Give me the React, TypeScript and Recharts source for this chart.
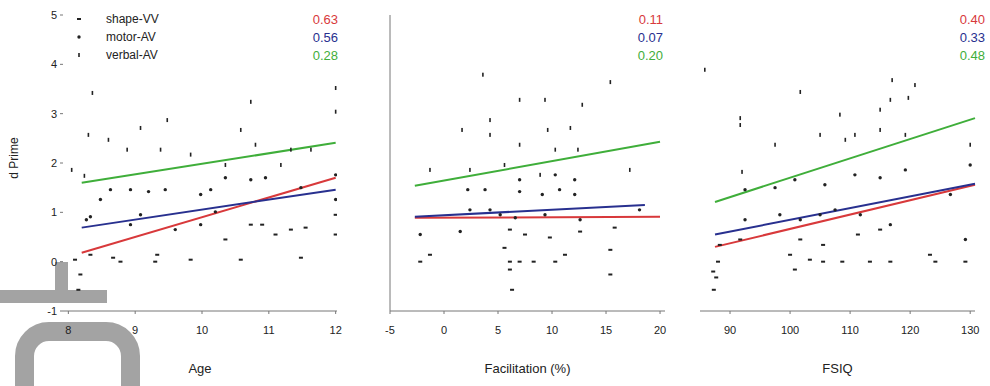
import { ScatterChart, Scatter, XAxis, YAxis, ReferenceLine, Label } from 'recharts'

type Pt = [number, number]

const SERIES = ['shape-VV', 'motor-AV', 'verbal-AV']
const COLORS = ['#d8393b', '#28308f', '#3fae3a']
const INK = '#222'

const Y_TICKS = [-1, 0, 1, 2, 3, 4, 5]
const AGE_TICKS = [8, 9, 10, 11, 12]
const FAC_TICKS = [-5, 0, 5, 10, 15, 20]
const IQ_TICKS = [90, 100, 110, 120, 130]

// correlation per series (shape, motor, verbal)
const AGE_R = ['0.63', '0.56', '0.28']
const FAC_R = ['0.11', '0.07', '0.20']
const IQ_R = ['0.40', '0.33', '0.48']

// regression segments [start, end] per series
const AGE_FITS: Pt[][] = [[[8.2, 0.18], [12, 1.7]], [[8.2, 0.69], [12, 1.46]], [[8.2, 1.6], [12, 2.41]]]
const FAC_FITS: Pt[][] = [[[-2.7, 0.89], [20, 0.91]], [[-2.7, 0.91], [18.6, 1.15]], [[-2.7, 1.54], [20, 2.43]]]
const IQ_FITS: Pt[][] = [[[87.5, 0.3], [130.8, 1.56]], [[87.5, 0.55], [130.8, 1.58]], [[87.5, 1.21], [130.8, 2.91]]]

const AGE_SHAPE: Pt[] = [[10.35, 0.45], [10.73, 0.75], [10.9, 0.75], [11.1, 0.55], [11.33, 0.65], [11.55, 0.69], [12, 0.95], [12, 0.55], [8.1, 0.04], [8.33, 0.14], [8.67, 0.08], [9.3, 0], [9.33, 0.14], [9.83, 0.04], [10.58, 0.04], [11.48, 0.08], [8.18, -0.26], [8.15, -0.57], [8.78, 0]]
const AGE_MOTOR: Pt[] = [[8.93, 1.46], [9.2, 1.42], [9.45, 1.46], [9.98, 1.36], [10.13, 1.46], [10.35, 1.7], [10.73, 1.66], [10.95, 1.7], [11.48, 1.5], [12, 1.76], [12, 1.26], [8.48, 1.26], [8.63, 1.46], [8.27, 0.85], [8.33, 0.91], [8.93, 0.75], [9.08, 0.95], [9.6, 0.65], [9.98, 0.75], [10.2, 1.01]]
const AGE_VERBAL: Pt[] = [[8.36, 3.42], [8.3, 2.57], [9.08, 2.71], [9.48, 2.87], [10.73, 3.24], [12, 3.52], [12, 3.04], [10.58, 2.67], [8.6, 2.47], [8.88, 2.27], [9.38, 2.27], [9.83, 2.17], [10.35, 1.96], [10.8, 2.37], [11.33, 2.27], [11.63, 2.27], [11.18, 1.96], [8.05, 1.86], [8.24, 1.74]]

const FAC_SHAPE: Pt[] = [[6.1, 0.65], [7.5, 0.55], [9.8, 0.49], [12.6, 0.61], [15.8, 0.69], [-1.3, 0.14], [-2.2, 0], [5.6, 0.28], [6.1, 0], [7, 0], [8.3, 0], [10.3, 0], [11.2, 0.14], [15.4, 0.24], [15.4, -0.26], [6.1, -0.16], [6.3, -0.57]]
const FAC_MOTOR: Pt[] = [[7, 1.66], [10.3, 1.76], [12.1, 1.66], [2.2, 1.46], [3.8, 1.46], [7, 1.42], [9.1, 1.36], [10.7, 1.46], [12.1, 1.36], [2.4, 1.05], [4.26, 1.05], [5.2, 0.95], [6.6, 0.89], [9.35, 0.95], [12.6, 0.85], [18.1, 1.05], [-2.2, 0.55], [1.5, 0.61]]
const FAC_VERBAL: Pt[] = [[3.6, 3.79], [7, 3.28], [9.35, 3.28], [15.4, 3.64], [12.8, 3.18], [4.26, 2.87], [1.67, 2.67], [9.6, 2.67], [11.7, 2.71], [4.26, 2.57], [7, 2.37], [10.3, 2.27], [12.4, 2.27], [-1.3, 1.86], [2.4, 1.86], [5.6, 1.96], [17.2, 1.86], [8.9, 1.76]]

const IQ_SHAPE: Pt[] = [[88.3, 0.34], [91.7, 0.45], [101.7, 0.45], [105.5, 0.34], [111.3, 0.55], [115, 0.65], [100, 0.14], [103.3, 0.04], [105.5, 0], [108.7, 0], [113.3, 0], [116.7, 0], [123.3, 0.14], [124.2, 0], [129.2, 0], [88, 0], [87.2, -0.2], [87.7, -0.32], [87.3, -0.57], [100.8, -0.16]]
const IQ_MOTOR: Pt[] = [[92.5, 1.46], [97.5, 1.5], [100.8, 1.66], [105.8, 1.56], [110.8, 1.76], [115, 1.7], [119.2, 1.86], [130, 1.96], [92.5, 0.85], [98.3, 0.95], [101.7, 0.85], [105, 0.95], [107.5, 1.05], [111.7, 0.95], [116.7, 0.75], [126.7, 1.36], [129.2, 0.45]]
const IQ_VERBAL: Pt[] = [[85.8, 3.89], [101.7, 3.44], [91.7, 2.91], [91.7, 2.77], [117, 3.68], [120.8, 3.58], [116.7, 3.28], [119.7, 3.32], [108.3, 2.98], [115, 3.08], [97.5, 2.37], [105, 2.57], [109.2, 2.47], [110.8, 2.57], [115, 2.67], [119.2, 2.57], [130, 2.37], [92, 1.82]]

const toXY = (pts: Pt[]) => pts.map(([x, y]) => ({ x, y }))

const tickStyle = { fill: '#222', stroke: 'none', fontSize: 11 }

function Marker({ kind, cx, cy }: { kind: number; cx?: number; cy?: number }) {
  if (cx == null || cy == null) return null
  if (kind === 0) return <rect x={cx - 2} y={cy - 1} width={4} height={2} fill={INK} />
  if (kind === 1) return <circle cx={cx} cy={cy} r={1.7} fill={INK} />
  return <rect x={cx - 0.8} y={cy - 2} width={1.6} height={4} fill={INK} />
}

function Panel(props: any) {
  const { left, width, yWidth, marginRight, domain, ticks, xLabel, sets, fits, rs, rsRight, yTicks, yLine } = props
  return (
    <div style={{ position: 'absolute', left, top: 0, width, height: 386 }}>
      <ScatterChart width={width} height={386} margin={{ top: 15, right: marginRight, bottom: 13, left: 0 }}>
        <XAxis type="number" dataKey="x" domain={domain} ticks={ticks} allowDataOverflow height={62}
          tickSize={3} tickMargin={12} stroke="#777" tick={tickStyle}>
          <Label value={xLabel} position="insideBottom" offset={0} style={{ fontSize: 13, fill: '#222' }} />
        </XAxis>
        <YAxis type="number" dataKey="y" domain={[-1, 5]} ticks={Y_TICKS} allowDataOverflow width={yWidth}
          axisLine={yLine} tickLine={yTicks} tick={yTicks ? tickStyle : false}
          tickSize={3} tickMargin={3} stroke="#777">
          {yTicks && (
            <Label content={(p: any) => {
              const vb = p.viewBox
              const cx = vb.x + 14
              const cy = vb.y + vb.height / 2 - 5
              return (
                <text x={cx} y={cy} transform={`rotate(-90 ${cx} ${cy})`} textAnchor="middle"
                  dominantBaseline="central" fontSize={12} fill="#222">d Prime</text>
              )
            }} />
          )}
        </YAxis>
        {sets.map((d: Pt[], i: number) => (
          <Scatter key={i} name={SERIES[i]} data={toXY(d)} isAnimationActive={false}
            shape={(p: any) => <Marker kind={i} cx={p.cx} cy={p.cy} />} />
        ))}
        {fits.map((seg: Pt[], i: number) => (
          <ReferenceLine key={i} segment={[{ x: seg[0][0], y: seg[0][1] }, { x: seg[1][0], y: seg[1][1] }]}
            stroke={COLORS[i]} strokeWidth={2} />
        ))}
      </ScatterChart>
      <div style={{ position: 'absolute', top: 11, left: 0, width: rsRight, textAlign: 'right', fontSize: 13, lineHeight: '18px' }}>
        {rs.map((r: string, i: number) => (
          <div key={i} style={{ color: COLORS[i] }}>{r}</div>
        ))}
      </div>
    </div>
  )
}

export default function App() {
  return (
    <div style={{ position: 'fixed', left: 0, top: 0, width: 990, height: 386, overflow: 'hidden', background: '#fff', fontFamily: '"Liberation Sans", Arial, sans-serif' }}>
      {/* grey backdrop shapes sitting behind the plots */}
      <div style={{ position: 'absolute', left: 55, top: 262, width: 13, height: 41, background: '#a3a3a3' }} />
      <div style={{ position: 'absolute', left: 0, top: 290, width: 107, height: 13, background: '#a3a3a3' }} />
      <div style={{ position: 'absolute', left: 15, top: 322, width: 125, height: 110, boxSizing: 'border-box', border: '19px solid #a3a3a3', borderRadius: 34 }} />

      <Panel left={0} width={345} yWidth={63} marginRight={8} domain={[7.92, 12.02]} ticks={AGE_TICKS} xLabel="Age"
        sets={[AGE_SHAPE, AGE_MOTOR, AGE_VERBAL]} fits={AGE_FITS} rs={AGE_R} rsRight={338} yTicks yLine={false} />
      <Panel left={380} width={290} yWidth={10} marginRight={5} domain={[-5, 20.46]} ticks={FAC_TICKS} xLabel="Facilitation (%)"
        sets={[FAC_SHAPE, FAC_MOTOR, FAC_VERBAL]} fits={FAC_FITS} rs={FAC_R} rsRight={283} yTicks={false} yLine />
      <Panel left={690} width={295} yWidth={10} marginRight={10} domain={[85, 130.8]} ticks={IQ_TICKS} xLabel="FSIQ"
        sets={[IQ_SHAPE, IQ_MOTOR, IQ_VERBAL]} fits={IQ_FITS} rs={IQ_R} rsRight={295} yTicks={false} yLine={false} />

      <div style={{ position: 'absolute', left: 74, top: 10, fontSize: 12, lineHeight: '18px', color: '#222' }}>
        {SERIES.map((s, i) => (
          <div key={s} style={{ display: 'flex', alignItems: 'center' }}>
            <svg width={10} height={10} style={{ marginRight: 22 }}>
              <Marker kind={i} cx={5} cy={5} />
            </svg>
            <span>{s}</span>
          </div>
        ))}
      </div>
    </div>
  )
}
